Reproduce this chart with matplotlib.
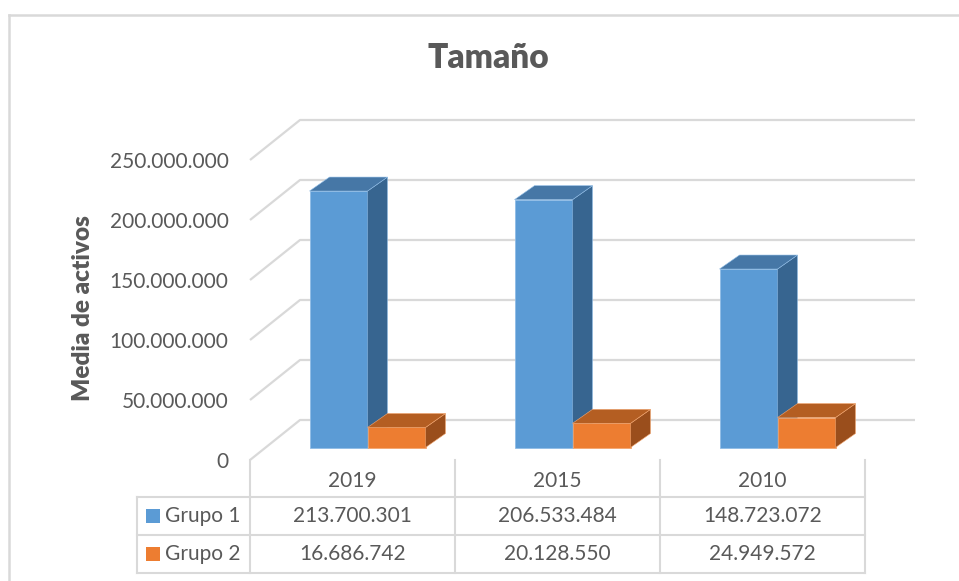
import matplotlib
matplotlib.use("Agg")
import matplotlib.pyplot as plt
from matplotlib.patches import Polygon, Rectangle
from matplotlib.transforms import blended_transform_factory

# ---------------- data ----------------
categories = ["2019", "2015", "2010"]
series_names = ["Grupo 1", "Grupo 2"]
grupo1 = [213700301, 206533484, 148723072]
grupo2 = [16686742, 20128550, 24949572]
ytick_values = [0, 50000000, 100000000, 150000000, 200000000, 250000000]
ytick_labels = ["0", "50.000.000", "100.000.000", "150.000.000", "200.000.000", "250.000.000"]
title = "Tamaño"
ylabel = "Media de activos"

# ---------------- style ----------------
plt.rcParams['font.family'] = ['Lato', 'DejaVu Sans']
TEXT = '#595959'
GRID = '#D9D9D9'
series_colors = [
    ('#5B9BD5', '#4677A6', '#376590', '#8FBCE6'),  # front, top, side, edge
    ('#ED7D31', '#B45E22', '#9A4E1C', '#F3A670'),
]

W, H = 959, 581
fig = plt.figure(figsize=(W / 100, H / 100), dpi=100)

# overlay axes in pixel coordinates (for frame, title, table)
ov = fig.add_axes([0, 0, 1, 1], zorder=0)
ov.set_xlim(0, W)
ov.set_ylim(H, 0)
ov.axis('off')

# main plotting axes: front plane of the 3D chart
ax = fig.add_axes([250 / W, (H - 460) / H, 615 / W, 300 / H], zorder=1)
ax.set_xlim(-0.5, 2.5)
ax.set_ylim(0, 250000000)
ax.patch.set_alpha(0)
for s in ax.spines.values():
    s.set_visible(False)
ax.set_xticks([])
ax.set_yticks(ytick_values)
ax.set_yticklabels(ytick_labels)
ax.tick_params(axis='y', length=0, pad=15.5, labelsize=15, labelcolor=TEXT)
ax.set_ylabel(ylabel, fontsize=17.5, fontweight='heavy', color=TEXT)
ax.yaxis.set_label_coords((94 - 250) / 615, (460 - 308) / 300)

px_x = 3 / 615
px_y = 250000000 / 300
wall_dx, wall_dy = 50 * px_x, 40 * px_y

# gridlines (front diagonal + back wall)
for v in ytick_values:
    ax.plot([-0.5, -0.5 + wall_dx, 2.5 + wall_dx], [v, v + wall_dy, v + wall_dy],
            color=GRID, lw=1.6, clip_on=False, zorder=1, solid_capstyle='butt')

# bars
bar_w = 58 * px_x
off_x, off_y = 15 * px_x, 12.5 * px_y
bar_dx, bar_dy = 20 * px_x, 14 * px_y

for s_idx, vals in enumerate([grupo1, grupo2]):
    front, top, side, edge = series_colors[s_idx]
    z = 3 + s_idx
    for i, v in enumerate(vals):
        center = i + off_x
        x0 = center - bar_w if s_idx == 0 else center
        ax.bar(x0, v, width=bar_w, bottom=off_y, align='edge', color=front,
               edgecolor=edge, linewidth=0.6, zorder=z, clip_on=False)
        y_top = off_y + v
        side_poly = Polygon([(x0 + bar_w, off_y), (x0 + bar_w + bar_dx, off_y + bar_dy),
                             (x0 + bar_w + bar_dx, y_top + bar_dy), (x0 + bar_w, y_top)],
                            closed=True, facecolor=side, edgecolor=edge, linewidth=0.4,
                            zorder=z, clip_on=False)
        top_poly = Polygon([(x0, y_top), (x0 + bar_dx, y_top + bar_dy),
                            (x0 + bar_w + bar_dx, y_top + bar_dy), (x0 + bar_w, y_top)],
                           closed=True, facecolor=top, edgecolor=edge, linewidth=0.4,
                           zorder=z, clip_on=False)
        ax.add_patch(side_poly)
        ax.add_patch(top_poly)

# chart frame
ov.plot([9, 9], [H, 15], color=GRID, lw=1.8)
ov.plot([9, W], [15, 15], color=GRID, lw=1.8)

# title
ov.text(488, 58, title, ha='center', va='center', fontsize=24, fontweight='heavy', color=TEXT)

# data table
bt = blended_transform_factory(ax.transData, ov.transData)
bounds = [-0.5, 0.5, 1.5, 2.5]
for b in bounds:
    ov.plot([b, b], [460, 573], color=GRID, lw=1.5, transform=bt)
ov.plot([137, 137], [497, 573], color=GRID, lw=1.5)
for yy in [497, 535, 573]:
    ov.plot([137, 865], [yy, yy], color=GRID, lw=1.5)

row_y = [516, 554]
for i, cat in enumerate(categories):
    ov.text(i, 481, cat, ha='center', va='center', fontsize=15, color=TEXT, transform=bt)
for r, vals in enumerate([grupo1, grupo2]):
    for i, v in enumerate(vals):
        ov.text(i, row_y[r], f"{v:,}".replace(",", "."), ha='center', va='center',
                fontsize=15, color=TEXT, transform=bt)
    ov.add_patch(Rectangle((146, row_y[r] - 7), 14, 14, facecolor=series_colors[r][0],
                           edgecolor='none'))
    ov.text(165, row_y[r], series_names[r], ha='left', va='center', fontsize=15, color=TEXT)

fig.savefig("out.png", dpi=100)
